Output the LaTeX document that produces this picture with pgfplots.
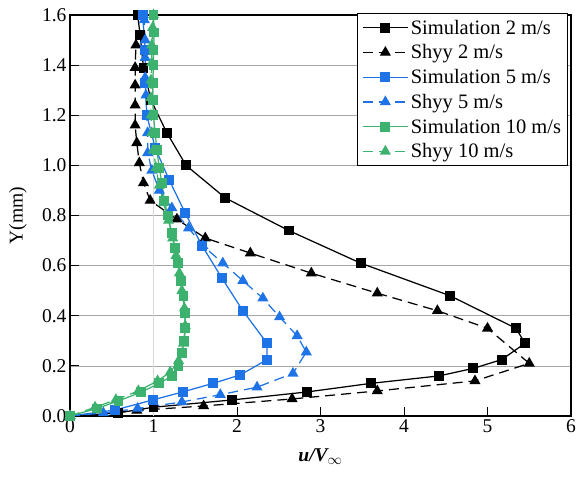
\documentclass[border=0pt]{standalone}
\usepackage{pgfplots}
\pgfplotsset{compat=1.18}
\usepackage{fontspec}
\setmainfont{Liberation Serif}
\definecolor{cblue}{RGB}{30,115,230}
\definecolor{cgreen}{RGB}{60,178,110}
\begin{document}
\begin{tikzpicture}
\begin{axis}[
  width=501pt, height=401pt, scale only axis,
  xmin=0, xmax=6, ymin=0, ymax=1.6,
  xtick={0,1,2,3,4,5,6},
  xticklabels={0,1,2,3,4,5,6},
  ytick={0,0.2,0.4,0.6,0.8,1.0,1.2,1.4,1.6},
  yticklabels={0.0,0.2,0.4,0.6,0.8,1.0,1.2,1.4,1.6},
  tick align=inside, tick pos=left,
  major tick length=9pt,
  tick style={black, line width=0.8pt},
  axis line style={black, line width=1.2pt},
  ymajorgrids, grid style={gray!70, line width=0.6pt},
  extra x ticks={1}, extra x tick labels={},
  extra x tick style={grid=major, major grid style={black!15, line width=1pt}, major tick length=0pt},
  tick label style={font=\fontsize{19.5}{22}\selectfont},
  xlabel={{\bfseries\itshape u/V}$_{\infty}$},
  ylabel={Y(mm)},
  label style={font=\fontsize{19.5}{22}\selectfont},
  xlabel style={at={(axis description cs:0.5,-0.102)}, anchor=center},
  ylabel style={at={(axis description cs:-0.104,0.5)}, anchor=center},
  legend style={at={(rel axis cs:0.994,1.005)}, anchor=north east,
    font=\fontsize{20.5}{24}\selectfont, draw=black, line width=0.8pt,
    inner sep=4.5pt, row sep=5pt},
  legend cell align=left,
  legend image code/.code={
    \draw[mark repeat=2, mark phase=2] plot coordinates {(0cm,0cm) (0.8cm,0cm) (1.6cm,0cm)};
  },
  every axis plot/.append style={line width=1.25pt},
  sq/.style={mark=square*, mark size=4.3pt, mark options={solid}},
  tri/.style={mark=triangle*, mark size=5.2pt, mark options={solid}, dash pattern=on 10pt off 6pt},
]
\addplot[black, sq] coordinates {
(0,0)(0.57,0.012)(1.0,0.035)(1.94,0.064)(2.84,0.096)(3.6,0.13)(4.42,0.16)(4.83,0.19)(5.17,0.225)(5.45,0.29)(5.34,0.35)(4.55,0.48)(3.48,0.61)(2.62,0.74)(1.86,0.87)(1.39,1.0)(1.16,1.13)(0.97,1.26)(0.88,1.39)(0.84,1.52)(0.81,1.6)};
\addlegendentry{Simulation 2 m/s}
\addplot[black, tri] coordinates {
(0,0)(0.8,0.022)(1.6,0.04)(2.66,0.068)(3.68,0.10)(4.85,0.14)(5.5,0.21)(5.0,0.35)(4.4,0.42)(3.68,0.49)(2.89,0.57)(2.16,0.65)(1.62,0.71)(1.28,0.785)(0.96,0.86)(0.88,0.93)(0.83,1.01)(0.80,1.09)(0.78,1.16)(0.78,1.24)(0.78,1.32)(0.78,1.39)(0.79,1.48)};
\addlegendentry{Shyy 2 m/s}
\addplot[cblue, sq] coordinates {
(0,0)(0.54,0.024)(0.99,0.064)(1.35,0.096)(1.71,0.13)(2.04,0.164)(2.36,0.225)(2.36,0.29)(2.07,0.42)(1.82,0.55)(1.58,0.68)(1.38,0.81)(1.19,0.94)(1.02,1.07)(0.92,1.2)(0.9,1.33)(0.9,1.46)(0.87,1.6)};
\addlegendentry{Simulation 5 m/s}
\addplot[cblue, tri] coordinates {
(0,0)(0.4,0.012)(0.81,0.03)(1.34,0.056)(1.8,0.085)(2.24,0.115)(2.67,0.17)(2.83,0.255)(2.72,0.32)(2.51,0.395)(2.31,0.47)(2.07,0.54)(1.83,0.61)(1.59,0.68)(1.42,0.75)(1.22,0.83)(1.07,0.9)(0.98,0.98)(0.93,1.05)(0.93,1.13)(0.92,1.2)(0.91,1.28)(0.9,1.35)(0.9,1.43)(0.9,1.5)(0.89,1.58)};
\addlegendentry{Shyy 5 m/s}
\addplot[cgreen, sq] coordinates {
(0,0)(0.32,0.03)(0.58,0.06)(0.85,0.095)(1.07,0.13)(1.22,0.16)(1.3,0.2)(1.34,0.25)(1.37,0.3)(1.38,0.35)(1.38,0.41)(1.36,0.48)(1.33,0.54)(1.29,0.61)(1.26,0.67)(1.22,0.73)(1.17,0.8)(1.13,0.86)(1.1,0.93)(1.07,0.99)(1.04,1.06)(1.02,1.13)(1.0,1.2)(0.99,1.26)(0.99,1.33)(1.0,1.4)(1.0,1.46)(1.01,1.53)(1.0,1.6)};
\addlegendentry{Simulation 10 m/s}
\addplot[cgreen, tri] coordinates {
(0,0)(0.3,0.035)(0.55,0.065)(0.82,0.1)(1.05,0.14)(1.2,0.175)(1.3,0.22)(1.36,0.29)(1.38,0.36)(1.37,0.43)(1.34,0.5)(1.31,0.57)(1.27,0.64)(1.23,0.71)(1.18,0.78)(1.12,0.85)(1.07,0.92)(1.03,0.99)(1.0,1.06)(0.98,1.13)(0.97,1.2)(0.97,1.27)(0.97,1.34)(0.98,1.41)(0.98,1.48)(0.99,1.55)(1.0,1.6)};
\addlegendentry{Shyy 10 m/s}
\end{axis}
\pgfresetboundingbox
\path[use as bounding box] ([shift={(-70pt,-60pt)}]current axis.south west) rectangle ([shift={(11pt,15pt)}]current axis.north east);
\end{tikzpicture}
\end{document}
